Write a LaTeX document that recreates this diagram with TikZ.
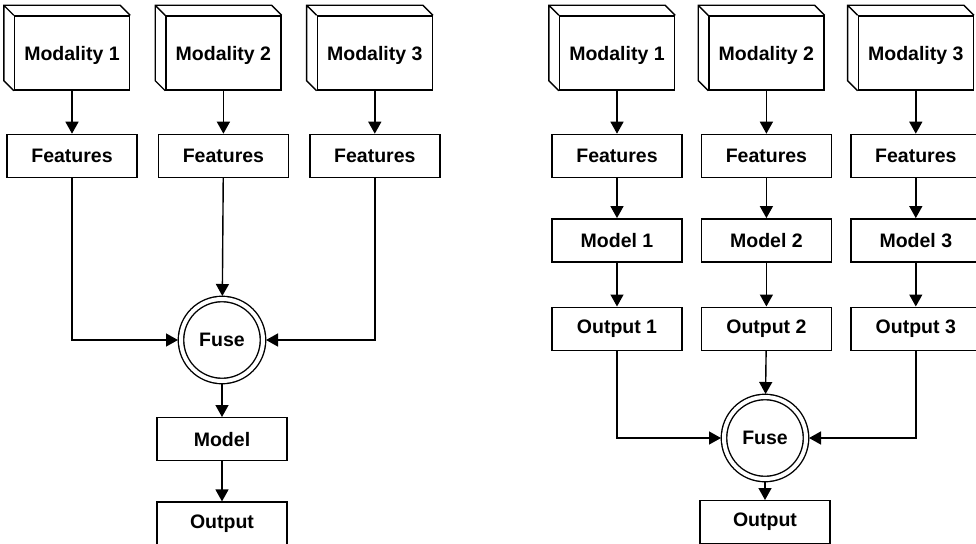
\documentclass[tikz,border=0pt]{standalone}
\usepackage{fontspec}
\setmainfont{Liberation Sans}
\usetikzlibrary{arrows.meta,positioning,calc}
\tikzset{
    % Base style for all nodes
    flat base/.style={
        font=\fontsize{19.5}{22}\selectfont\bfseries,
        align=center,
        draw=black,
        line width=1.4pt,
        inner sep=0pt,
    },
    % Modality nodes - front face of a box, the depth is drawn afterwards
    modality/.style={
        flat base,
        minimum width=115pt,
        minimum height=74pt,
        text depth=-4pt,
    },
    % Process nodes - plain rectangle
    process/.style={
        flat base,
        minimum width=130pt,
        minimum height=43pt,
    },
    % Fuse node - double circle
    fusion/.style={
        flat base,
        circle,
        double,
        double distance=4pt,
        minimum size=82pt,
        outer sep=3pt,
    },
    % Arrow style - straight, filled tip
    arrow/.style={
        -{Triangle[length=12pt, width=13pt]},
        line width=1.4pt,
    },
    % Depth lines of the modality boxes
    box depth/.style={
        line width=1.4pt,
        line join=miter,
    },
}

\begin{document}
\begin{tikzpicture}[x=1pt, y=1pt]
    \useasboundingbox (0,0) rectangle (976,-543);

    % early fusion
    \node (emod1) [modality] at (72,-53) {Modality 1};
    \node (emod2) [modality, right=35pt of emod1] {Modality 2};
    \node (emod3) [modality, right=35pt of emod2] {Modality 3};
    \node (efeat1) [process, below=43pt of emod1] {Features};
    \node (efeat2) [process, below=43pt of emod2] {Features};
    \node (efeat3) [process, below=43pt of emod3] {Features};
    \node (efuse) [fusion] at (222,-340) {Fuse};
    \node (emodel) [process, below=33pt of efuse] {Model};
    \node (eout) [process, below=40pt of emodel] {Output};

    \draw [arrow] (emod1) -- (efeat1);
    \draw [arrow] (emod2) -- (efeat2);
    \draw [arrow] (emod3) -- (efeat3);
    \draw [arrow] (efeat1) |- (efuse);
    \draw [arrow] (efeat2) -- (efuse);
    \draw [arrow] (efeat3) |- (efuse);
    \draw [arrow] (efuse) -- (emodel);
    \draw [arrow] (emodel) -- (eout);

    % late fusion
    \node (lmod1) [modality] at (617,-53) {Modality 1};
    \node (lmod2) [modality, right=33pt of lmod1] {Modality 2};
    \node (lmod3) [modality, right=33pt of lmod2] {Modality 3};
    \node (lfeat1) [process, below=43pt of lmod1] {Features};
    \node (lfeat2) [process, below=43pt of lmod2] {Features};
    \node (lfeat3) [process, below=43pt of lmod3] {Features};
    \node (lmodel1) [process, below=40pt of lfeat1] {Model 1};
    \node (lmodel2) [process, below=40pt of lfeat2] {Model 2};
    \node (lmodel3) [process, below=40pt of lfeat3] {Model 3};
    \node (lout1) [process, below=44pt of lmodel1] {Output 1};
    \node (lout2) [process, below=44pt of lmodel2] {Output 2};
    \node (lout3) [process, below=44pt of lmodel3] {Output 3};
    \node (lfuse) [fusion] at (765,-438) {Fuse};
    \node (lout) [process, below=18pt of lfuse] {Output};

    \draw [arrow] (lmod1) -- (lfeat1);
    \draw [arrow] (lmod2) -- (lfeat2);
    \draw [arrow] (lmod3) -- (lfeat3);
    \draw [arrow] (lfeat1) -- (lmodel1);
    \draw [arrow] (lfeat2) -- (lmodel2);
    \draw [arrow] (lfeat3) -- (lmodel3);
    \draw [arrow] (lmodel1) -- (lout1);
    \draw [arrow] (lmodel2) -- (lout2);
    \draw [arrow] (lmodel3) -- (lout3);
    \draw [arrow] (lout1) |- (lfuse);
    \draw [arrow] (lout2) -- (lfuse);
    \draw [arrow] (lout3) |- (lfuse);
    \draw [arrow] (lfuse) -- (lout);

    % depth of the modality boxes
    \foreach \m in {emod1,emod2,emod3,lmod1,lmod2,lmod3}
        \draw [box depth] (\m.south west) -- ++(-10,10) |- ($(\m.north east)+(-10,10)$) -- (\m.north east)
            (\m.north west) -- ++(-10,10);
\end{tikzpicture}
\end{document}
